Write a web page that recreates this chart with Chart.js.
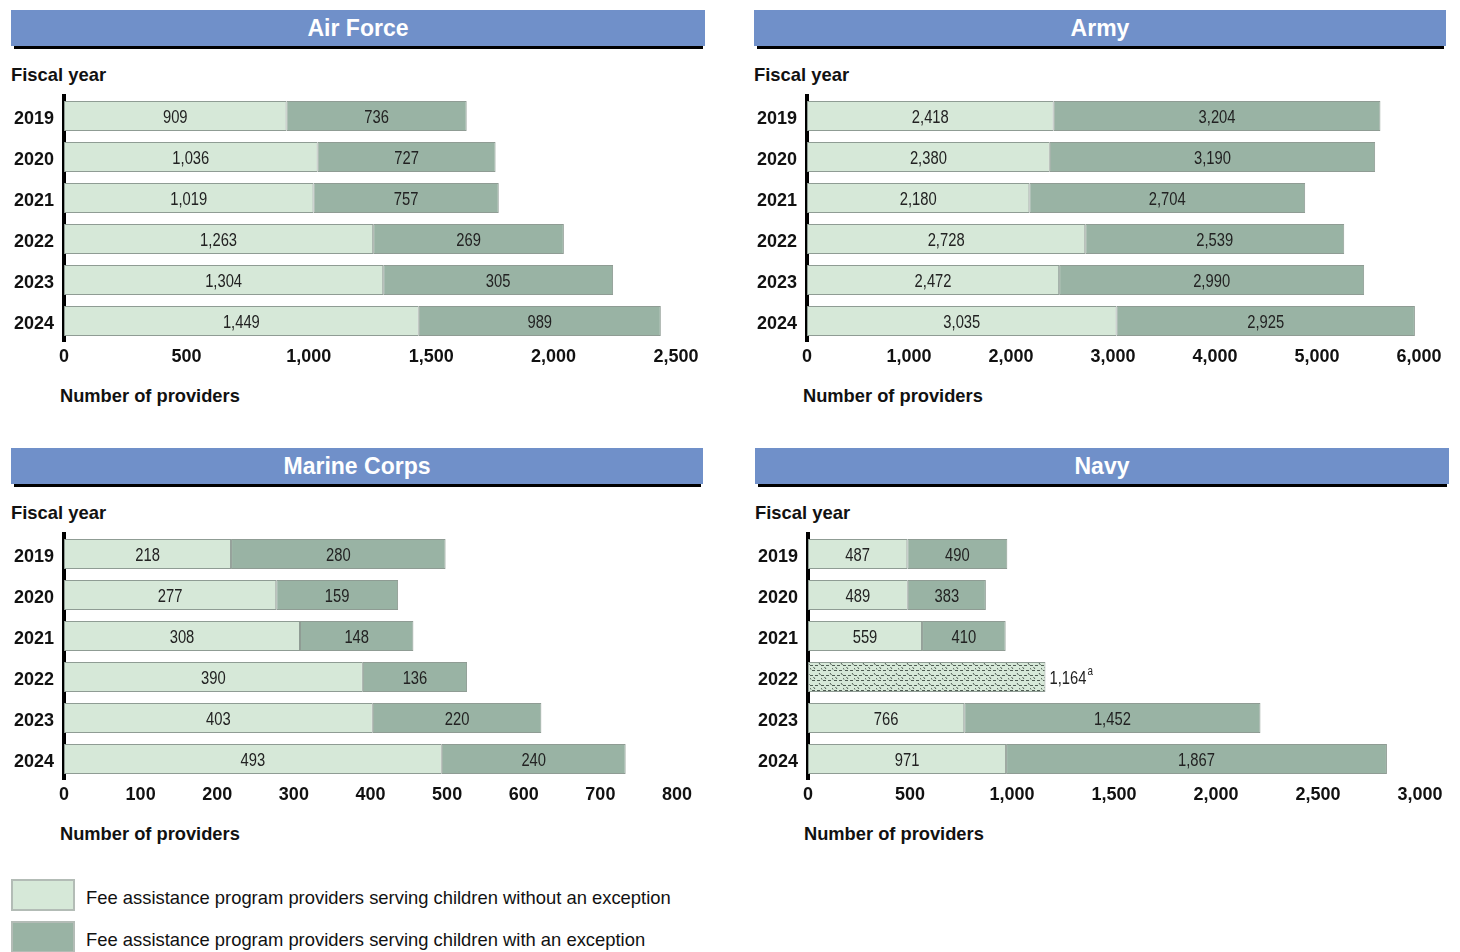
<!DOCTYPE html>
<html>
<head>
<meta charset="utf-8">
<script src="https://cdn.jsdelivr.net/npm/chart.js@4.4.1/dist/chart.umd.min.js"></script>
<style>
  body { margin: 0; width: 1460px; height: 952px; background: #fff; position: relative; overflow: hidden;
         font-family: "Liberation Sans", Arial, sans-serif; }
  .head { position: absolute; height: 36px; background: #7090c9; color: #fff; font-weight: bold;
          font-size: 23px; line-height: 36px; text-align: center; }
  .rule { position: absolute; height: 3px; background: #000; }
  .lbl { position: absolute; font-weight: bold; font-size: 18.4px; line-height: 22px; color: #111; white-space: nowrap; }
  .xt { font-size: 18.3px; }
  .cv { position: absolute; }
  .key { position: absolute; left: 11px; width: 60px; height: 28px; border: 2px solid #b3bcb6; }
  .keytxt { position: absolute; left: 86px; font-size: 18.4px; line-height: 22px; color: #111; white-space: nowrap; }
</style>
</head>
<body>

<div class="head" style="left:11px;top:10px;width:694px;">Air Force</div>
<div class="rule" style="left:14px;top:46px;width:689px;"></div>
<div class="head" style="left:754px;top:10px;width:692px;">Army</div>
<div class="rule" style="left:757px;top:46px;width:687px;"></div>
<div class="head" style="left:11px;top:448px;width:692px;">Marine Corps</div>
<div class="rule" style="left:14px;top:484px;width:687px;"></div>
<div class="head" style="left:755px;top:448px;width:694px;">Navy</div>
<div class="rule" style="left:758px;top:484px;width:689px;"></div>

<div class="lbl" style="left:11px;top:64px;">Fiscal year</div>
<div class="lbl" style="left:754px;top:64px;">Fiscal year</div>
<div class="lbl" style="left:11px;top:502px;">Fiscal year</div>
<div class="lbl" style="left:755px;top:502px;">Fiscal year</div>

<div class="lbl xt" style="left:60px;top:385px;">Number of providers</div>
<div class="lbl xt" style="left:803px;top:385px;">Number of providers</div>
<div class="lbl xt" style="left:60px;top:823px;">Number of providers</div>
<div class="lbl xt" style="left:804px;top:823px;">Number of providers</div>

<canvas id="airforce" class="cv" style="left:0px;top:85px;" width="720" height="290"></canvas>
<canvas id="army" class="cv" style="left:743px;top:85px;" width="717" height="290"></canvas>
<canvas id="marines" class="cv" style="left:0px;top:523px;" width="720" height="290"></canvas>
<canvas id="navy" class="cv" style="left:744px;top:523px;" width="716" height="290"></canvas>

<div class="key" style="top:879px;background:#d6e8d8;"></div>
<div class="keytxt" style="top:887px;">Fee assistance program providers serving children without an exception</div>
<div class="key" style="top:921px;background:#99b3a4;"></div>
<div class="keytxt" style="top:929px;">Fee assistance program providers serving children with an exception</div>

<script>
const years = ['2019', '2020', '2021', '2022', '2023', '2024'];

// Air Force
const afWithout = [909, 1036, 1019, 1263, 1304, 1449];
const afWith = [736, 727, 757, 779, 939, 989];          // bar lengths as drawn
const afWithShown = ['736', '727', '757', '269', '305', '989']; // printed labels

// Army
const armyWithout = [2418, 2380, 2180, 2728, 2472, 3035];
const armyWith = [3204, 3190, 2704, 2539, 2990, 2925];

// Marine Corps
const mcWithout = [218, 277, 308, 390, 403, 493];
const mcWith = [280, 159, 148, 136, 220, 240];

// Navy (2022 only reported as a total)
const navyWithout = [487, 489, 559, null, 766, 971];
const navyWith = [490, 383, 410, null, 1452, 1867];
const navyTotalOnly = [null, null, null, 1164, null, null];

const LIGHT = '#d6e8d8';
const DARK = '#99b3a4';
const EDGE = '#8f9c94';
const FONT = '"Liberation Sans", Arial, sans-serif';
const SQUEEZE = 0.82; // labels in the bars use a condensed face

function hatch() {
    const c = document.createElement('canvas');
    c.width = 11; c.height = 10;
    const g = c.getContext('2d');
    g.fillStyle = LIGHT;
    g.fillRect(0, 0, 11, 10);
    g.strokeStyle = '#4f5c53';
    g.lineWidth = 1;
    g.beginPath();
    // dashed rows
    g.moveTo(0, 2.5); g.lineTo(3, 2.5);
    g.moveTo(5, 2.5); g.lineTo(8, 2.5);
    g.moveTo(2, 7.5); g.lineTo(5, 7.5);
    g.moveTo(7, 7.5); g.lineTo(10, 7.5);
    // small diagonal ticks
    g.moveTo(9, 0); g.lineTo(10.5, 2);
    g.moveTo(3.5, 4); g.lineTo(5, 6);
    g.moveTo(0, 5); g.lineTo(1, 6.5);
    g.stroke();
    return g.createPattern(c, 'repeat');
}

function squeezedText(ctx, text, x, y, align) {
    const w = ctx.measureText(text).width * SQUEEZE;
    const left = align === 'center' ? x - w / 2 : x;
    ctx.save();
    ctx.translate(left, y);
    ctx.scale(SQUEEZE, 1);
    ctx.textAlign = 'left';
    ctx.fillText(text, 0, 0);
    ctx.restore();
    return w;
}

const barLabels = {
    id: 'barLabels',
    afterDatasetsDraw(chart) {
        const ctx = chart.ctx;
        ctx.save();
        ctx.font = '18px ' + FONT;
        ctx.fillStyle = '#222';
        ctx.textBaseline = 'middle';
        chart.data.datasets.forEach((ds, i) => {
            const meta = chart.getDatasetMeta(i);
            meta.data.forEach((bar, j) => {
                const v = ds.data[j];
                if (v == null) return;
                const text = ds.shown ? ds.shown[j] : v.toLocaleString('en-US');
                const p = bar.getProps(['x', 'base', 'y'], true);
                if (ds.outside) {
                    const w = squeezedText(ctx, text, p.x + 4, p.y + 2, 'left');
                    ctx.font = '12px ' + FONT;
                    squeezedText(ctx, 'a', p.x + 5 + w, p.y - 5, 'left');
                    ctx.font = '18px ' + FONT;
                } else {
                    squeezedText(ctx, text, (p.x + p.base) / 2, p.y + 2, 'center');
                }
            });
        });
        ctx.restore();
    }
};

function makePanel(id, datasets, max, step, axisW, padRight) {
    const ctx = document.getElementById(id).getContext('2d');
    return new Chart(ctx, {
        type: 'bar',
        data: {
            labels: years,
            datasets: datasets.map(d => Object.assign({
                borderColor: EDGE,
                borderWidth: 1,
                borderSkipped: false,
                barPercentage: 1,
                categoryPercentage: 30 / 41
            }, d))
        },
        options: {
            indexAxis: 'y',
            responsive: false,
            animation: false,
            layout: { padding: { top: 10.5, bottom: 3.5, left: 0, right: padRight } },
            plugins: {
                legend: { display: false },
                tooltip: { enabled: false }
            },
            scales: {
                x: {
                    stacked: true,
                    min: 0,
                    max: max,
                    ticks: { stepSize: step, padding: 5, color: '#111', font: { family: FONT, size: 18, weight: 'bold' } },
                    grid: { display: false, drawTicks: false },
                    border: { display: false },
                    afterFit: s => { s.height = 30; }
                },
                y: {
                    stacked: true,
                    ticks: { padding: 10, labelOffset: 3, color: '#111', font: { family: FONT, size: 18, weight: 'bold' } },
                    grid: { display: false, drawTicks: false },
                    border: { display: true, color: '#000', width: 4 },
                    afterFit: s => { s.width = axisW; s.paddingTop = 0; s.paddingBottom = 0; }
                }
            }
        },
        plugins: [barLabels]
    });
}

makePanel('airforce', [
    { label: 'Without exception', data: afWithout, backgroundColor: LIGHT },
    { label: 'With exception', data: afWith, shown: afWithShown, backgroundColor: DARK }
], 2500, 500, 64, 44);

makePanel('army', [
    { label: 'Without exception', data: armyWithout, backgroundColor: LIGHT },
    { label: 'With exception', data: armyWith, backgroundColor: DARK }
], 6000, 1000, 64, 41);

makePanel('marines', [
    { label: 'Without exception', data: mcWithout, backgroundColor: LIGHT },
    { label: 'With exception', data: mcWith, backgroundColor: DARK }
], 800, 100, 64, 43);

makePanel('navy', [
    { label: 'Without exception', data: navyWithout, backgroundColor: LIGHT },
    { label: 'With exception', data: navyWith, backgroundColor: DARK },
    { label: 'Total', data: navyTotalOnly, backgroundColor: hatch(), outside: true }
], 3000, 500, 64, 40);
</script>
</body>
</html>
